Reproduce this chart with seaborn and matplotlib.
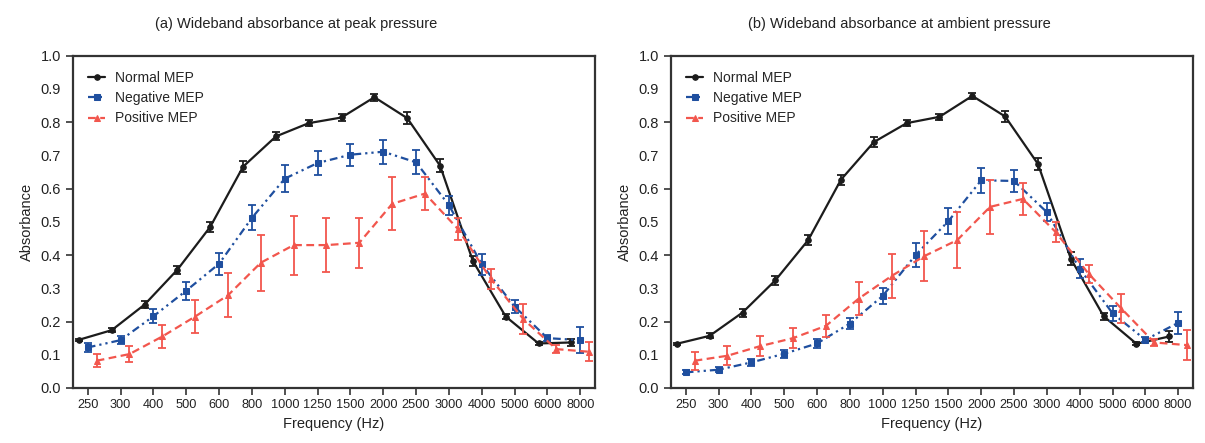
import matplotlib
matplotlib.use("Agg")
import matplotlib.pyplot as plt
import numpy as np
import seaborn as sns

# frequency bands (Hz) - plotted at equal spacing
freqs = ["250", "300", "400", "500", "600", "800", "1000", "1250", "1500",
         "2000", "2500", "3000", "4000", "5000", "6000", "8000"]

# (a) peak pressure
peak_normal = [0.145, 0.174, 0.251, 0.356, 0.485, 0.666, 0.757, 0.797, 0.814,
               0.875, 0.812, 0.669, 0.382, 0.215, 0.134, 0.137]
peak_normal_err = [0.003, 0.007, 0.010, 0.012, 0.015, 0.016, 0.012, 0.010, 0.010,
                   0.010, 0.018, 0.020, 0.015, 0.008, 0.005, 0.010]
peak_neg = [0.122, 0.144, 0.216, 0.293, 0.374, 0.512, 0.630, 0.677, 0.702,
            0.711, 0.679, 0.550, 0.372, 0.245, 0.150, 0.144]
peak_neg_err = [0.013, 0.013, 0.021, 0.027, 0.033, 0.038, 0.040, 0.037, 0.033,
                0.036, 0.036, 0.029, 0.032, 0.020, 0.008, 0.039]
peak_pos = [0.082, 0.102, 0.155, 0.215, 0.279, 0.377, 0.430, 0.430, 0.437,
            0.554, 0.585, 0.479, 0.329, 0.207, 0.117, 0.109]
peak_pos_err = [0.019, 0.024, 0.035, 0.050, 0.066, 0.084, 0.089, 0.082, 0.075,
                0.080, 0.049, 0.034, 0.030, 0.046, 0.011, 0.028]

# (b) ambient pressure
amb_normal = [0.133, 0.157, 0.227, 0.324, 0.445, 0.627, 0.740, 0.797, 0.816,
              0.879, 0.817, 0.674, 0.389, 0.216, 0.133, 0.155]
amb_normal_err = [0.003, 0.008, 0.012, 0.013, 0.016, 0.015, 0.015, 0.010, 0.010,
                  0.008, 0.018, 0.017, 0.020, 0.010, 0.004, 0.016]
amb_neg = [0.047, 0.055, 0.077, 0.103, 0.134, 0.194, 0.277, 0.400, 0.502,
           0.625, 0.623, 0.529, 0.359, 0.225, 0.145, 0.196]
amb_neg_err = [0.006, 0.008, 0.010, 0.012, 0.013, 0.018, 0.025, 0.036, 0.040,
               0.038, 0.033, 0.027, 0.029, 0.022, 0.008, 0.034]
amb_pos = [0.082, 0.097, 0.126, 0.150, 0.187, 0.269, 0.337, 0.397, 0.445,
           0.545, 0.569, 0.469, 0.344, 0.239, 0.137, 0.129]
amb_pos_err = [0.027, 0.029, 0.031, 0.031, 0.034, 0.050, 0.065, 0.075, 0.084,
               0.081, 0.047, 0.030, 0.027, 0.044, 0.010, 0.045]

BLACK = "#1c1c1c"
BLUE = "#1f4f9f"
RED = "#f2564d"

sns.set_style("ticks")
plt.rcParams['font.family'] = ['Liberation Sans', 'DejaVu Sans']

fig = plt.figure(figsize=(12.05, 4.43), dpi=100)
ax1 = fig.add_axes([0.0606, 0.1242, 0.4332, 0.7501])
ax2 = fig.add_axes([0.5568, 0.1242, 0.4332, 0.7501])

idx = np.arange(len(freqs))
OFF = 0.27


def draw_series(ax, xs, ys, err, color, marker, ms, dashes, label):
    sns.lineplot(x=xs, y=ys, ax=ax, color=color, marker=marker, markersize=ms,
                 markeredgecolor=color, linewidth=1.6, label=label,
                 sort=False, estimator=None)
    line = ax.lines[-1]
    if dashes is not None:
        line.set_dashes(dashes)
    ax.errorbar(xs, ys, yerr=err, fmt="none", ecolor=color, elinewidth=1.3,
                capsize=2.8, capthick=1.3)


def setup(ax, normal, nerr, neg, negerr, pos, poserr):
    draw_series(ax, idx - OFF, normal, nerr, BLACK, "o", 4, None, "Normal MEP")
    draw_series(ax, idx, neg, negerr, BLUE, "s", 4.5, (3.5, 1.8, 1, 1.8, 1, 1.8), "Negative MEP")
    draw_series(ax, idx + OFF, pos, poserr, RED, "^", 4, (3.5, 2), "Positive MEP")

    ax.set_xlim(-0.45, 15.45)
    ax.set_ylim(0, 1.0)
    ax.set_xticks(idx)
    ax.set_xticklabels(freqs)
    ax.set_yticks(np.arange(0, 1.01, 0.2))
    ax.set_yticklabels(["0.0", "0.2", "0.4", "0.6", "0.8", "1.0"])
    ax.set_yticks(np.arange(0.1, 1.0, 0.2), minor=True)
    ax.set_yticklabels(["0.1", "0.3", "0.5", "0.7", "0.9"], minor=True)
    ax.tick_params(axis="both", which="major", length=5, width=1.2,
                   color="#333333", direction="out", labelcolor="#222222")
    ax.tick_params(axis="x", which="major", labelsize=9.2, pad=3)
    ax.tick_params(axis="y", which="major", labelsize=10.5)
    ax.tick_params(axis="y", which="minor", labelsize=10.5, length=0, pad=8.5,
                   labelcolor="#222222")
    for sp in ax.spines.values():
        sp.set_visible(True)
        sp.set_linewidth(1.6)
        sp.set_color("#333333")
    ax.set_xlabel("Frequency (Hz)", fontsize=10.5, labelpad=4, color="#222222")
    ax.set_ylabel("Absorbance", fontsize=10.5, labelpad=5, color="#222222")
    ax.legend(loc="upper left", frameon=False, fontsize=10, handlelength=1.2,
              handletextpad=0.7, labelspacing=0.45, borderaxespad=0.7)


setup(ax1, peak_normal, peak_normal_err, peak_neg, peak_neg_err, peak_pos, peak_pos_err)
setup(ax2, amb_normal, amb_normal_err, amb_neg, amb_neg_err, amb_pos, amb_pos_err)

fig.text(296 / 1205, 1 - 24 / 443, "(a) Wideband absorbance at peak pressure",
         ha="center", va="center", fontsize=10.5, color="#222222")
fig.text(899 / 1205, 1 - 24 / 443, "(b) Wideband absorbance at ambient pressure",
         ha="center", va="center", fontsize=10.5, color="#222222")

fig.savefig("out.png", dpi=100)
